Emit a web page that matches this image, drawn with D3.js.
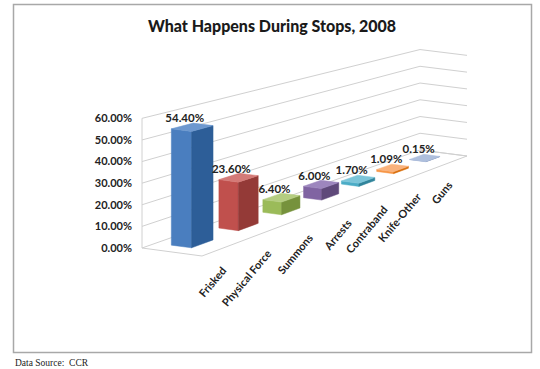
<!DOCTYPE html>
<html><head><meta charset="utf-8">
<script src="https://cdn.jsdelivr.net/npm/d3@7"></script>
<style>body{margin:0;background:#fff} svg{display:block}</style>
</head><body>
<svg id="c" width="540" height="369"></svg>
<script>
// ---- data ----
const categories = ["Frisked","Physical Force","Summons","Arrests","Contraband","Knife-Other","Guns"];
const values = [54.40, 23.60, 6.40, 6.00, 1.70, 1.09, 0.15];
const valueLabels = ["54.40%","23.60%","6.40%","6.00%","1.70%","1.09%","0.15%"];
const yTicks = [0, 10, 20, 30, 40, 50, 60];
const sideColors  = ["#4a7ebf","#c0504d","#9bbb59","#8064a2","#4bacc6","#f79646","#92a6cd"];
const frontColors = ["#2d5e98","#943a37","#76923c","#5f497a","#31849b","#d9700f","#7186b0"];
const topColors   = ["#6d98cf","#d47a77","#b4cd80","#9d86be","#7cc5d9","#f9b27c","#aebfdd"];

const svg = d3.select("#c");
const font = "Lato, 'Open Sans', sans-serif";

// ---- 3D projection (floor homography + vertical) ----
const FL=[202,256], FR=[467,156], BR=[420,150], BL=[142,248];
const dx1=FR[0]-BR[0], dx2=BL[0]-BR[0], dx3=FL[0]-FR[0]+BR[0]-BL[0];
const dy1=FR[1]-BR[1], dy2=BL[1]-BR[1], dy3=FL[1]-FR[1]+BR[1]-BL[1];
const den=dx1*dy2-dx2*dy1;
const g=(dx3*dy2-dx2*dy3)/den, h=(dx1*dy3-dx3*dy1)/den;
const a=FR[0]-FL[0]+g*FR[0], b=BL[0]-FL[0]+h*BL[0], c0=FL[0];
const d=FR[1]-FL[1]+g*FR[1], e=BL[1]-FL[1]+h*BL[1], f=FL[1];
function proj(s, v, t){ // s: category axis 0..1, v: height px, t: depth 0 front..1 back
  const w=g*s+h*t+1;
  return [(a*s+b*t+c0)/w, (d*s+e*t+f-v)/w];
}

const x = d3.scaleBand().domain(categories).range([0,1]).paddingInner(0.55).paddingOuter(0.275);
const y = d3.scaleLinear().domain([0,60]).range([0,130]);
const tFront=0.40, tBack=0.74, tLabel=0.70;
const line = d3.line();

// ---- border ----
svg.append("rect").attr("x",13.5).attr("y",4.5).attr("width",518).attr("height",348)
  .attr("fill","none").attr("stroke","#a8a8a8").attr("stroke-width",1.5);

// ---- title ----
svg.append("text").attr("x",272).attr("y",32).attr("text-anchor","middle")
  .attr("font-family",font).attr("font-weight","900").attr("font-size",16).attr("fill","#1a1a1a")
  .text("What Happens During Stops, 2008");

// ---- walls & gridlines ----
const grid = svg.append("g").attr("fill","none").attr("stroke","#d0d0d0").attr("stroke-width",1);
yTicks.forEach(tk=>{
  grid.append("path").attr("d", line([proj(0,y(tk),1), proj(1,y(tk),1), proj(1,y(tk),0)]));
});
grid.append("path").attr("d", line([proj(0,0,1), proj(0,y(60),1)]));
grid.append("path").attr("d", line([proj(0,0,1), proj(0,0,0), proj(1,0,0), proj(1,0,1)]));

// ---- value axis labels ----
const fmt = d3.format(".2%");
svg.append("g").selectAll("text").data(yTicks).join("text")
  .attr("x", tk=>proj(0,y(tk),1)[0]-10).attr("y", tk=>proj(0,y(tk),1)[1])
  .attr("dy","0.35em").attr("text-anchor","end")
  .attr("font-family",font).attr("font-weight","bold").attr("font-size",11).attr("fill","#222")
  .text(tk=>fmt(tk/100));

// ---- bars (back to front) ----
const bars = svg.append("g");
const order = d3.range(categories.length).reverse();
order.forEach(i=>{
  const s0 = x(categories[i]), s1 = s0 + x.bandwidth();
  const v = y(values[i]);
  const gb = bars.append("g");
  gb.append("path").attr("fill", sideColors[i]).attr("stroke", sideColors[i]).attr("stroke-width",0.5)
    .attr("d", line([proj(s0,0,tBack), proj(s0,0,tFront), proj(s0,v,tFront), proj(s0,v,tBack)])+"Z");
  gb.append("path").attr("fill", frontColors[i]).attr("stroke", frontColors[i]).attr("stroke-width",0.5)
    .attr("d", line([proj(s0,0,tFront), proj(s1,0,tFront), proj(s1,v,tFront), proj(s0,v,tFront)])+"Z");
  gb.append("path").attr("fill", topColors[i]).attr("stroke", topColors[i]).attr("stroke-width",0.5)
    .attr("d", line([proj(s0,v,tBack), proj(s0,v,tFront), proj(s1,v,tFront), proj(s1,v,tBack)])+"Z");
});

// ---- data labels ----
svg.append("g").selectAll("text").data(categories).join("text")
  .attr("x",(cat,i)=>proj(x(cat)+x.bandwidth()/2, y(values[i]), tLabel)[0])
  .attr("y",(cat,i)=>proj(x(cat)+x.bandwidth()/2, y(values[i]), tLabel)[1]-4)
  .attr("text-anchor","middle")
  .attr("font-family",font).attr("font-weight","bold").attr("font-size",11.5).attr("fill","#222")
  .text((cat,i)=>valueLabels[i]);

// ---- category labels ----
svg.append("g").selectAll("text").data(categories).join("text")
  .attr("transform", cat=>{
    const p = proj(x(cat)+x.bandwidth()/2, 0, 0);
    return `translate(${p[0]+1},${p[1]+24}) rotate(-50)`;
  })
  .attr("text-anchor","end")
  .attr("font-family",font).attr("font-weight","bold").attr("font-size",11).attr("fill","#222")
  .text(cat=>cat);

// ---- source note ----
svg.append("text").attr("x",15).attr("y",366).attr("xml:space","preserve").style("white-space","pre")
  .attr("font-family","'Liberation Serif', serif").attr("font-size",9.5).attr("fill","#222")
  .text("Data Source:  CCR");
</script>
</body></html>
